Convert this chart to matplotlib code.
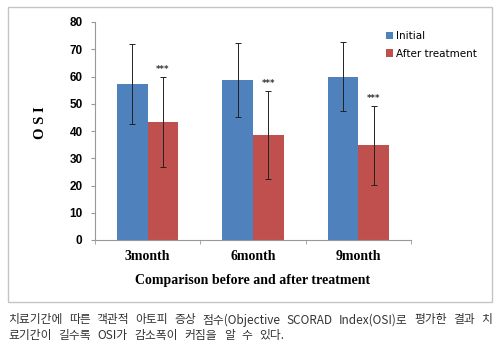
import matplotlib.pyplot as plt
import numpy as np
from matplotlib.patches import Rectangle

# data
groups = ['3month', '6month', '9month']
initial = [57.4, 58.8, 60.0]
initial_err = [14.7, 13.6, 12.7]
after = [43.3, 38.6, 34.7]
after_err = [16.5, 16.2, 14.5]
yticks = [0, 10, 20, 30, 40, 50, 60, 70, 80]

caption1 = '치료기간에 따른 객관적 아토피 증상 점수(Objective SCORAD Index(OSI)로 평가한 결과 치'
caption2 = '료기간이 길수록 OSI가 감소폭이 커짐을 알 수 있다.'

blue = '#4F81BD'
red = '#C0504D'
W, H = 500, 347

fig = plt.figure(figsize=(W / 100, H / 100), dpi=100)

# outer frame around the chart
fig.add_artist(Rectangle((8 / W, 1 - 302 / H), 484 / W, 295 / H,
                         transform=fig.transFigure, fill=False,
                         edgecolor='#c4c4c4', linewidth=1))

ax = fig.add_axes([95 / W, 1 - 240 / H, 316 / W, 218 / H])
x = np.arange(len(groups))
bw = 0.29
ekw = dict(ecolor='#222222', elinewidth=0.7, capsize=2, capthick=0.7)
ax.bar(x - bw / 2, initial, bw, yerr=initial_err, color=blue, label='Initial',
       error_kw=ekw)
ax.bar(x + bw / 2, after, bw, yerr=after_err, color=red, label='After treatment',
       error_kw=ekw)

for xi, v, e in zip(x, after, after_err):
    ax.text(xi + bw / 2, v + e + 1.0, '***', ha='center', va='bottom',
            fontsize=6, color='#333333', fontweight='bold')

ax.set_xlim(-0.5, len(groups) - 0.5)
ax.set_ylim(0, 80)
ax.set_yticks(yticks)
ax.set_yticklabels([str(t) for t in yticks], fontsize=8.5, fontweight='bold',
                   family='Liberation Sans')
ax.set_xticks(x)
ax.set_xticklabels(groups, fontsize=10, fontweight='bold', family='Liberation Serif')
ax.set_xticks(np.arange(-0.5, len(groups)), minor=True)
ax.tick_params(axis='x', which='major', length=0, pad=7)
ax.tick_params(axis='x', which='minor', length=3, color='#999999')
ax.tick_params(axis='y', length=3, color='#999999', pad=6)
for s in ['top', 'right']:
    ax.spines[s].set_visible(False)
for s in ['left', 'bottom']:
    ax.spines[s].set_color('#999999')
    ax.spines[s].set_linewidth(0.8)

ax.set_xlabel('Comparison before and after treatment', fontsize=10,
              fontweight='bold', family='Liberation Serif', labelpad=8)
ax.set_ylabel('O S I', fontsize=10.5, fontweight='bold', family='Liberation Serif')
ax.yaxis.set_label_coords(-0.152, 0.54)

leg = ax.legend(loc='upper left', bbox_to_anchor=(0.89, 1.0), frameon=False,
                fontsize=7.5, handlelength=0.7, handleheight=0.7,
                handletextpad=0.3, labelspacing=0.7)

# caption below the frame, both lines spread word by word
cap_font = dict(fontsize=8.5, family=['Noto Sans CJK KR', 'DejaVu Sans'], color='#333333')
fig.canvas.draw()
renderer = fig.canvas.get_renderer()


def spread(text, y, left, right):
    words = text.split(' ')
    arts = [fig.text(0, 0, w, va='center', **cap_font) for w in words]
    widths = [a.get_window_extent(renderer).width for a in arts]
    gap = (right - left - sum(widths)) / (len(words) - 1)
    pos = left
    for a, w in zip(arts, widths):
        a.set_position((pos / W, 1 - y / H))
        pos += w + gap


spread(caption1, 320, 8, 492)
spread(caption2, 335, 8, 284)

fig.savefig('out.png', dpi=100)
